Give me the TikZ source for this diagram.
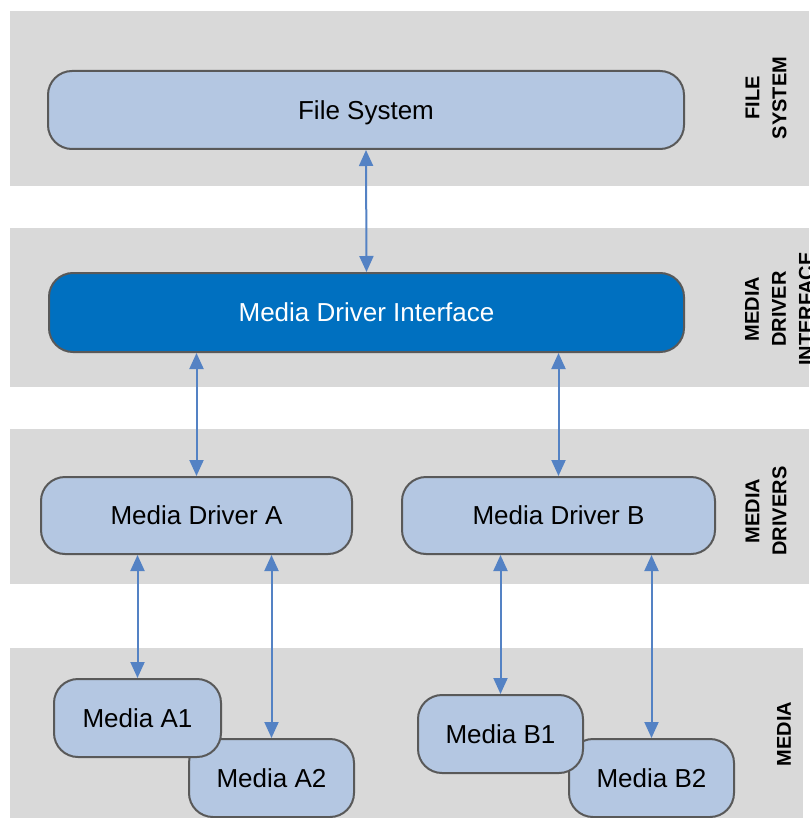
\documentclass[tikz,border=0pt]{standalone}
\usepackage{fontspec}
\setmainfont{Liberation Sans}
\usetikzlibrary{arrows.meta}
\definecolor{bandgray}{RGB}{217,217,217}
\definecolor{boxlight}{RGB}{180,199,226}
\definecolor{boxdark}{RGB}{0,112,192}
\definecolor{boxline}{RGB}{89,89,89}
\definecolor{arrowblue}{RGB}{84,130,196}
\tikzset{
  band/.style={fill=bandgray, draw=none},
  box/.style={draw=boxline, line width=2pt, rounded corners=24pt, fill=boxlight,
    inner sep=0pt, text height=18.5pt, text depth=0pt,
    font=\fontsize{26}{30}\selectfont, text=black},
  darkbox/.style={box, fill=boxdark, text=white},
  arr/.style={draw=arrowblue, line width=2pt,
    {Triangle[length=16pt,width=14pt]}-{Triangle[length=16pt,width=14pt]}},
  layerlabel/.style={rotate=90, align=center, font=\bfseries\fontsize{20}{27}\selectfont, inner sep=0pt}
}
\begin{document}
\begin{tikzpicture}[x=1pt,y=-1pt]
\useasboundingbox (0,0) rectangle (809,818);
% bands
\fill[band] (10,11) rectangle (809,186);
\fill[band] (10,228) rectangle (809,387);
\fill[band] (10,429) rectangle (809,584);
\fill[band] (10,648) rectangle (803,818);
% boxes
\node[box, minimum width=636pt, minimum height=78pt] (fs) at (366,110) {File System};
\node[darkbox, minimum width=635pt, minimum height=79pt] (mdi) at (366.5,312.5) {Media Driver Interface};
\node[box, minimum width=311pt, minimum height=77pt] (drvA) at (196.5,515.5) {Media Driver A};
\node[box, minimum width=313pt, minimum height=77pt] (drvB) at (558.5,515.5) {Media Driver B};
\node[box, minimum width=165pt, minimum height=78pt] (a2) at (271.5,778) {Media A2};
\node[box, minimum width=167pt, minimum height=78pt] (a1) at (137.5,718) {Media A1};
\node[box, minimum width=165pt, minimum height=78pt] (b2) at (651.5,778) {Media B2};
\node[box, minimum width=165pt, minimum height=78pt] (b1) at (500.5,734) {Media B1};
% connectors
\draw[arr] (fs.south) -- (mdi.north);
\draw[arr] (mdi.south -| drvA.north) -- (drvA.north);
\draw[arr] (mdi.south -| drvB.north) -- (drvB.north);
\draw[arr] (drvA.south -| a1.north) -- (a1.north);
\draw[arr] (drvA.south -| a2.north) -- (a2.north);
\draw[arr] (drvB.south -| b1.north) -- (b1.north);
\draw[arr] (drvB.south -| b2.north) -- (b2.north);
% layer labels
\node[layerlabel] (lfs) at (766,98) {FILE\\SYSTEM};
\node[layerlabel] (lmdi) at (779,309) {MEDIA\\DRIVER\\INTERFACE};
\node[layerlabel] (ldrv) at (766,511) {MEDIA\\DRIVERS};
\node[layerlabel] (lmed) at (784,734) {MEDIA};
\end{tikzpicture}
\end{document}
